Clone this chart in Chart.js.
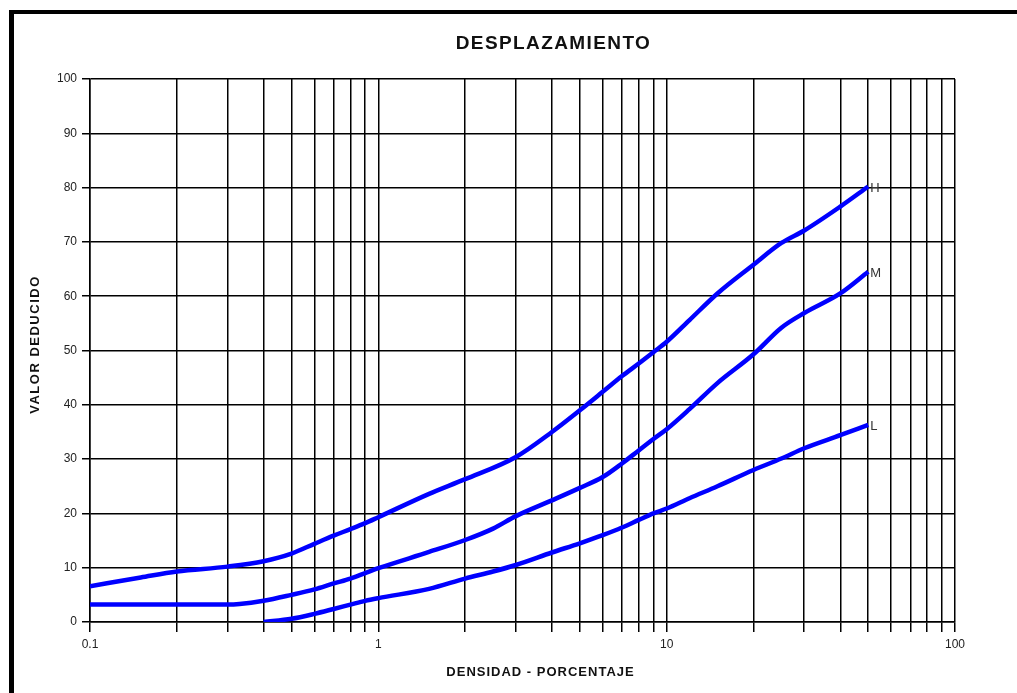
<!DOCTYPE html>
<html>
<head>
<meta charset="utf-8">
<script src="https://cdn.jsdelivr.net/npm/chart.js@4/dist/chart.umd.min.js"></script>
<style>
  html, body { margin: 0; padding: 0; background: #fff; }
  #wrap { position: absolute; left: 0; top: 0; width: 1017px; height: 693px; }
</style>
</head>
<body>
<div id="wrap"><canvas id="chart" width="1017" height="693"></canvas></div>
<script>
// Curve H (high severity)
const hDensity = [0.1, 0.15, 0.2, 0.3, 0.4, 0.5, 0.6, 0.7, 0.8, 0.9, 1, 1.5, 2, 3, 4, 5, 6, 7, 8, 9, 10, 12, 15, 20, 25, 30, 40, 50];
const hValue   = [6.6, 8.2, 9.3, 10.2, 11.2, 12.6, 14.4, 15.9, 17.1, 18.2, 19.3, 23.6, 26.3, 30.4, 35.0, 39.0, 42.4, 45.3, 47.6, 49.7, 51.6, 55.6, 60.5, 65.8, 69.8, 72.1, 76.5, 80.2];

// Curve M (medium severity)
const mDensity = [0.1, 0.2, 0.3, 0.33, 0.4, 0.5, 0.6, 0.7, 0.8, 0.9, 1, 1.5, 2, 2.5, 3, 4, 5, 6, 7, 8, 9, 10, 12, 15, 20, 25, 30, 40, 50];
const mValue   = [3.2, 3.2, 3.2, 3.3, 3.9, 5.0, 6.0, 7.1, 8.0, 9.0, 9.9, 12.9, 15.1, 17.2, 19.5, 22.4, 24.7, 26.7, 29.2, 31.6, 33.7, 35.5, 39.2, 44.0, 49.3, 54.2, 56.9, 60.5, 64.5];

// Curve L (low severity)
const lDensity = [0.4, 0.5, 0.6, 0.7, 0.8, 0.9, 1, 1.5, 2, 2.5, 3, 4, 5, 6, 7, 8, 9, 10, 12, 15, 20, 25, 30, 40, 50];
const lValue   = [0, 0.6, 1.5, 2.4, 3.2, 3.9, 4.4, 6.1, 8.0, 9.3, 10.5, 12.8, 14.5, 16.0, 17.4, 18.8, 20.0, 20.9, 22.8, 25.0, 28.0, 30.1, 32.0, 34.4, 36.3];

const curveNames = ['H', 'M', 'L'];

// Log-axis grid positions and the ones that carry a label
const xGridValues = [0.1, 0.2, 0.3, 0.4, 0.5, 0.6, 0.7, 0.8, 0.9,
                     1, 2, 3, 4, 5, 6, 7, 8, 9,
                     10, 20, 30, 40, 50, 60, 70, 80, 90, 100];
const xTickLabels = [0.1, 1, 10, 100];
const yTickValues = [0, 10, 20, 30, 40, 50, 60, 70, 80, 90, 100];

const chartTitle = 'DESPLAZAMIENTO';
const xAxisTitle = 'DENSIDAD - PORCENTAJE';
const yAxisTitle = 'VALOR DEDUCIDO';

const FONT = '"Liberation Sans", Arial, sans-serif';

function toPoints(xs, ys) { return xs.map((x, i) => ({ x: x, y: ys[i] })); }

const series = [
  toPoints(hDensity, hValue),
  toPoints(mDensity, mValue),
  toPoints(lDensity, lValue)
];

// Page frame, titles and curve end labels
const decorations = {
  id: 'decorations',
  beforeDraw(chart) {
    const ctx = chart.ctx;
    ctx.save();
    ctx.fillStyle = '#fff';
    ctx.fillRect(0, 0, chart.width, chart.height);
    ctx.fillStyle = '#000';
    ctx.fillRect(9, 10, chart.width - 9, 4);
    ctx.fillRect(9, 10, 5, chart.height - 10);
    ctx.restore();
  },
  afterDraw(chart) {
    const ctx = chart.ctx;
    const area = chart.chartArea;
    ctx.save();
    ctx.fillStyle = '#111';
    ctx.textAlign = 'center';
    ctx.textBaseline = 'middle';

    ctx.font = 'bold 19px ' + FONT;
    ctx.letterSpacing = '1.4px';
    ctx.fillText(chartTitle, (area.left + chart.width) / 2, 44);

    ctx.font = 'bold 13px ' + FONT;
    ctx.letterSpacing = '1px';
    ctx.fillText(xAxisTitle, (area.left + area.right) / 2 + 18, 672);

    ctx.save();
    ctx.letterSpacing = '1.5px';
    ctx.translate(35, (area.top + area.bottom) / 2 - 6);
    ctx.rotate(-Math.PI / 2);
    ctx.fillText(yAxisTitle, 0, 0);
    ctx.restore();

    ctx.letterSpacing = '0px';
    ctx.font = '13px ' + FONT;
    ctx.fillStyle = '#333';
    ctx.textAlign = 'left';
    chart.data.datasets.forEach((ds, i) => {
      const meta = chart.getDatasetMeta(i);
      const last = meta.data[meta.data.length - 1];
      ctx.fillText(curveNames[i], last.x + 2, last.y + 2);
    });
    ctx.restore();
  }
};

new Chart(document.getElementById('chart'), {
  type: 'line',
  data: {
    datasets: series.map((pts, i) => ({
      label: curveNames[i],
      data: pts,
      borderColor: '#0000ff',
      backgroundColor: '#0000ff',
      borderWidth: 4.5,
      pointRadius: 0,
      fill: false,
      cubicInterpolationMode: 'monotone'
    }))
  },
  options: {
    responsive: false,
    animation: false,
    layout: { padding: { top: 79, right: 62, left: 0, bottom: 0 } },
    plugins: {
      legend: { display: false },
      title: { display: false },
      tooltip: { enabled: false }
    },
    scales: {
      x: {
        type: 'logarithmic',
        min: 0.1,
        max: 100,
        afterFit(scale) { scale.height = 71; },
        afterBuildTicks(scale) { scale.ticks = xGridValues.map(v => ({ value: v })); },
        ticks: {
          autoSkip: false,
          maxRotation: 0,
          padding: 5,
          color: '#222',
          font: { family: FONT, size: 12 },
          callback(value) { return xTickLabels.includes(value) ? String(value) : ''; }
        },
        grid: { color: '#000', lineWidth: 1.5, tickLength: 10, drawTicks: true },
        border: { color: '#000', width: 1.5 }
      },
      y: {
        type: 'linear',
        min: 0,
        max: 100,
        afterFit(scale) { scale.width = 90; },
        afterBuildTicks(scale) { scale.ticks = yTickValues.map(v => ({ value: v })); },
        ticks: {
          padding: 5,
          color: '#222',
          font: { family: FONT, size: 12 }
        },
        grid: { color: '#000', lineWidth: 1.5, tickLength: 8, drawTicks: true },
        border: { color: '#000', width: 1.5 }
      }
    }
  },
  plugins: [decorations]
});
</script>
</body>
</html>
